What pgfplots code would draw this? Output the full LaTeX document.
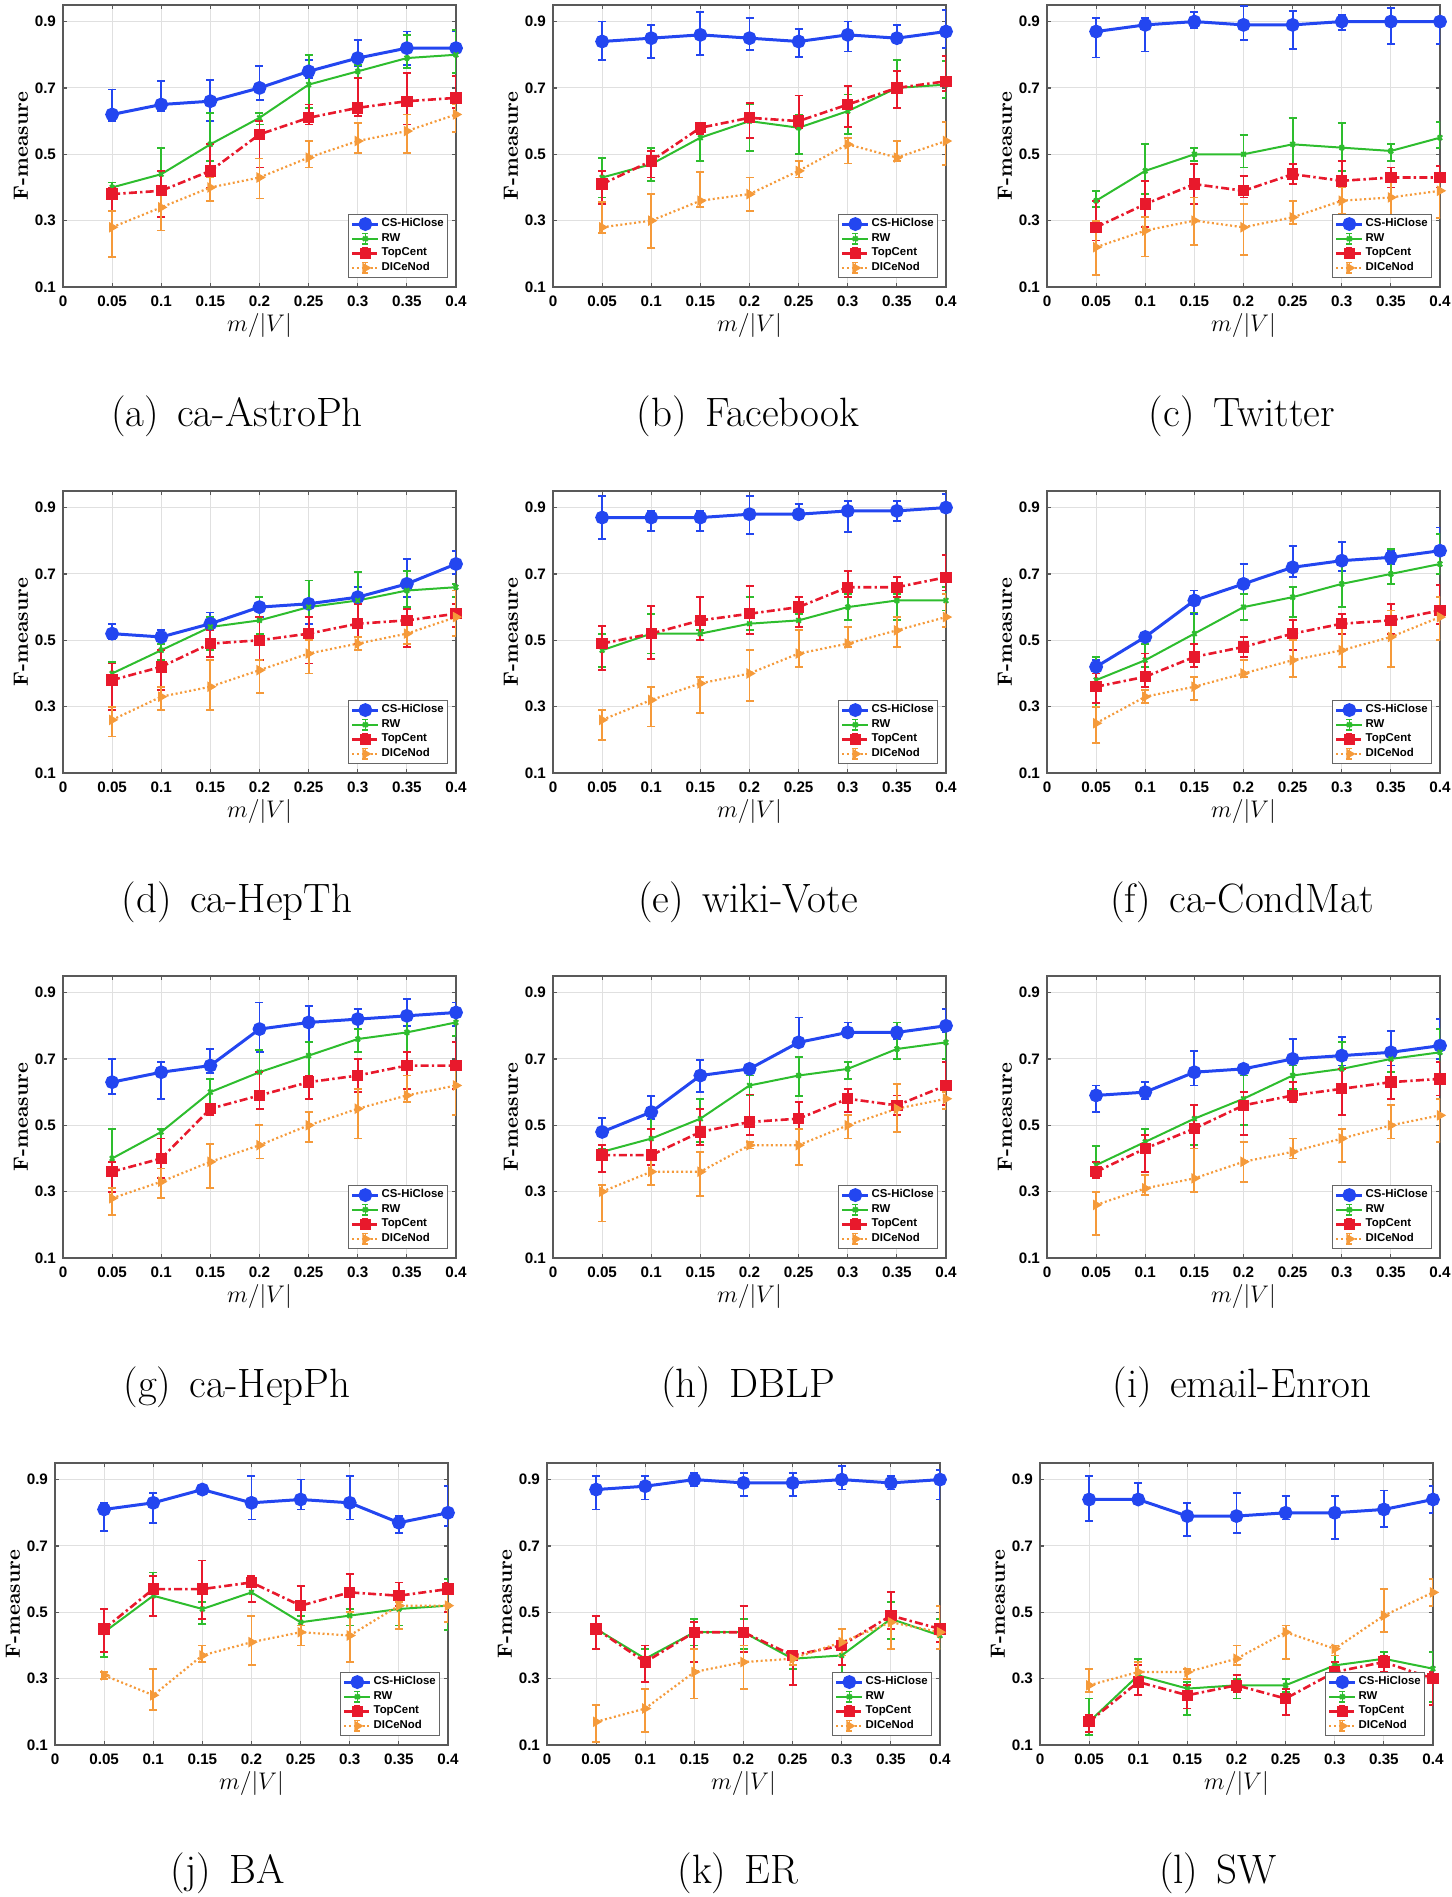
\documentclass[border=0pt]{standalone}
\usepackage{fontspec}
\usepackage{pgfplots}
\usepackage{pgfplotstable}
\pgfplotsset{compat=1.18}
\newfontfamily\hv{Liberation Sans}
\definecolor{csblue}{HTML}{2346F0}
\definecolor{rwgreen}{HTML}{2EBD2E}
\definecolor{tcred}{HTML}{E8192C}
\definecolor{dcorange}{HTML}{F59A3A}

% columns: x, then value / error plus / error minus for each method
\pgfplotstableread{
x cs csp csm rw rwp rwm tc tcp tcm dc dcp dcm
0.05 0.62 0.075 0.02 0.40 0.015 0.01 0.38 0.02 0.05 0.28 0.05 0.09
0.10 0.65 0.07 0.02 0.44 0.08 0.04 0.39 0.06 0.08 0.34 0.04 0.07
0.15 0.66 0.065 0.06 0.53 0.095 0.05 0.45 0.08 0.05 0.40 0.03 0.04
0.20 0.70 0.067 0.036 0.61 0.015 0.02 0.56 0.04 0.10 0.43 0.057 0.063
0.25 0.75 0.035 0.02 0.71 0.09 0.07 0.61 0.04 0.02 0.49 0.05 0.03
0.30 0.79 0.055 0.025 0.75 0.02 0.02 0.64 0.09 0.025 0.54 0.054 0.036
0.35 0.82 0.05 0.05 0.79 0.07 0.03 0.66 0.085 0.07 0.57 0.05 0.066
0.40 0.82 0.05 0.02 0.80 0.075 0.055 0.67 0.065 0.03 0.62 0.03 0.053
}\tA
\pgfplotstableread{
x cs csp csm rw rwp rwm tc tcp tcm dc dcp dcm
0.05 0.84 0.06 0.055 0.43 0.06 0.06 0.41 0.04 0.06 0.28 0.077 0.018
0.10 0.85 0.04 0.06 0.47 0.05 0.05 0.48 0.03 0.05 0.30 0.08 0.083
0.15 0.86 0.07 0.06 0.55 0.04 0.07 0.58 0.01 0.02 0.36 0.087 0.02
0.20 0.85 0.06 0.035 0.60 0.05 0.09 0.61 0.045 0.06 0.38 0.05 0.05
0.25 0.84 0.037 0.046 0.58 0.04 0.08 0.60 0.077 0.02 0.45 0.03 0.02
0.30 0.86 0.04 0.05 0.63 0.05 0.07 0.65 0.057 0.068 0.53 0.02 0.058
0.35 0.85 0.04 0.016 0.70 0.084 0.06 0.70 0.05 0.06 0.49 0.05 0.01
0.40 0.87 0.065 0.05 0.71 0.07 0.04 0.72 0.077 0.03 0.54 0.057 0.073
}\tB
\pgfplotstableread{
x cs csp csm rw rwp rwm tc tcp tcm dc dcp dcm
0.05 0.87 0.04 0.078 0.36 0.03 0.02 0.28 0.08 0.04 0.22 0.08 0.083
0.10 0.89 0.02 0.08 0.45 0.08 0.07 0.35 0.07 0.07 0.27 0.04 0.078
0.15 0.90 0.03 0.02 0.50 0.02 0.02 0.41 0.06 0.06 0.30 0.07 0.073
0.20 0.89 0.057 0.046 0.50 0.057 0.04 0.39 0.045 0.02 0.28 0.07 0.083
0.25 0.89 0.042 0.073 0.53 0.08 0.08 0.44 0.03 0.03 0.31 0.05 0.02
0.30 0.90 0.02 0.025 0.52 0.074 0.07 0.42 0.06 0.06 0.36 0.04 0.04
0.35 0.90 0.042 0.068 0.51 0.02 0.03 0.43 0.03 0.03 0.37 0.07 0.06
0.40 0.90 0.01 0.068 0.55 0.047 0.03 0.43 0.035 0.03 0.39 0.04 0.083
}\tC
\pgfplotstableread{
x cs csp csm rw rwp rwm tc tcp tcm dc dcp dcm
0.05 0.52 0.03 0.015 0.40 0.035 0.02 0.38 0.05 0.09 0.26 0.04 0.05
0.10 0.51 0.02 0.02 0.47 0.02 0.03 0.42 0.05 0.07 0.33 0.03 0.04
0.15 0.55 0.034 0.02 0.54 0.03 0.07 0.49 0.04 0.04 0.36 0.08 0.07
0.20 0.60 0.03 0.03 0.56 0.07 0.04 0.50 0.07 0.06 0.41 0.03 0.07
0.25 0.61 0.07 0.06 0.60 0.08 0.08 0.52 0.05 0.09 0.46 0.04 0.06
0.30 0.63 0.03 0.02 0.62 0.087 0.07 0.55 0.06 0.06 0.49 0.02 0.02
0.35 0.67 0.074 0.04 0.65 0.06 0.05 0.56 0.034 0.08 0.52 0.03 0.03
0.40 0.73 0.04 0.03 0.66 0.01 0.03 0.58 0.03 0.04 0.57 0.08 0.056
}\tD
\pgfplotstableread{
x cs csp csm rw rwp rwm tc tcp tcm dc dcp dcm
0.05 0.87 0.065 0.065 0.47 0.05 0.05 0.49 0.054 0.08 0.26 0.03 0.06
0.10 0.87 0.02 0.04 0.52 0.06 0.06 0.52 0.084 0.077 0.32 0.04 0.08
0.15 0.87 0.02 0.04 0.52 0.01 0.02 0.56 0.07 0.06 0.37 0.02 0.09
0.20 0.88 0.055 0.06 0.55 0.08 0.02 0.58 0.084 0.06 0.40 0.07 0.084
0.25 0.88 0.03 0.01 0.56 0.02 0.02 0.60 0.03 0.06 0.46 0.07 0.04
0.30 0.89 0.03 0.063 0.60 0.04 0.04 0.66 0.05 0.03 0.49 0.05 0.01
0.35 0.89 0.03 0.03 0.62 0.02 0.06 0.66 0.03 0.03 0.53 0.04 0.05
0.40 0.90 0.04 0.01 0.62 0.04 0.03 0.69 0.067 0.04 0.57 0.07 0.03
}\tE
\pgfplotstableread{
x cs csp csm rw rwp rwm tc tcp tcm dc dcp dcm
0.05 0.42 0.02 0.02 0.38 0.07 0.08 0.36 0.04 0.05 0.25 0.05 0.06
0.10 0.51 0.01 0.02 0.44 0.05 0.02 0.39 0.07 0.03 0.33 0.02 0.02
0.15 0.62 0.03 0.04 0.52 0.064 0.06 0.45 0.04 0.03 0.36 0.03 0.04
0.20 0.67 0.06 0.03 0.60 0.04 0.04 0.48 0.03 0.03 0.40 0.04 0.01
0.25 0.72 0.064 0.03 0.63 0.03 0.06 0.52 0.04 0.05 0.44 0.06 0.05
0.30 0.74 0.057 0.03 0.67 0.08 0.07 0.55 0.03 0.03 0.47 0.08 0.05
0.35 0.75 0.02 0.02 0.70 0.075 0.03 0.56 0.05 0.04 0.51 0.08 0.09
0.40 0.77 0.07 0.01 0.73 0.09 0.03 0.59 0.077 0.04 0.57 0.06 0.07
}\tF
\pgfplotstableread{
x cs csp csm rw rwp rwm tc tcp tcm dc dcp dcm
0.05 0.63 0.07 0.035 0.40 0.09 0.03 0.36 0.03 0.06 0.28 0.03 0.05
0.10 0.66 0.03 0.08 0.48 0.01 0.02 0.40 0.06 0.06 0.33 0.04 0.05
0.15 0.68 0.05 0.023 0.60 0.04 0.05 0.55 0.01 0.02 0.39 0.054 0.08
0.20 0.79 0.08 0.07 0.66 0.067 0.06 0.59 0.07 0.04 0.44 0.06 0.04
0.25 0.81 0.05 0.06 0.71 0.04 0.06 0.63 0.02 0.05 0.50 0.04 0.05
0.30 0.82 0.03 0.03 0.76 0.03 0.04 0.65 0.05 0.05 0.55 0.06 0.09
0.35 0.83 0.05 0.03 0.78 0.05 0.06 0.68 0.04 0.07 0.59 0.06 0.02
0.40 0.84 0.03 0.04 0.81 0.04 0.04 0.68 0.07 0.07 0.62 0.07 0.09
}\tG
\pgfplotstableread{
x cs csp csm rw rwp rwm tc tcp tcm dc dcp dcm
0.05 0.48 0.043 0.01 0.42 0.01 0.06 0.41 0.03 0.05 0.30 0.02 0.09
0.10 0.54 0.048 0.02 0.46 0.07 0.05 0.41 0.08 0.03 0.36 0.05 0.04
0.15 0.65 0.047 0.05 0.52 0.06 0.07 0.48 0.07 0.04 0.36 0.06 0.073
0.20 0.67 0.01 0.01 0.62 0.03 0.03 0.51 0.083 0.04 0.44 0.01 0.01
0.25 0.75 0.075 0.01 0.65 0.057 0.062 0.52 0.05 0.03 0.44 0.05 0.06
0.30 0.78 0.03 0.01 0.67 0.02 0.03 0.58 0.03 0.04 0.50 0.03 0.04
0.35 0.78 0.03 0.02 0.73 0.08 0.03 0.56 0.03 0.03 0.55 0.074 0.07
0.40 0.80 0.05 0.02 0.75 0.05 0.05 0.62 0.07 0.06 0.58 0.02 0.03
}\tH
\pgfplotstableread{
x cs csp csm rw rwp rwm tc tcp tcm dc dcp dcm
0.05 0.59 0.03 0.05 0.38 0.057 0.04 0.36 0.03 0.02 0.26 0.04 0.09
0.10 0.60 0.03 0.02 0.45 0.04 0.03 0.43 0.04 0.07 0.31 0.04 0.02
0.15 0.66 0.064 0.04 0.52 0.04 0.08 0.49 0.07 0.06 0.34 0.09 0.04
0.20 0.67 0.01 0.01 0.58 0.07 0.08 0.56 0.04 0.09 0.39 0.06 0.06
0.25 0.70 0.06 0.02 0.65 0.03 0.04 0.59 0.04 0.02 0.42 0.04 0.02
0.30 0.71 0.055 0.03 0.67 0.08 0.07 0.61 0.06 0.08 0.46 0.03 0.07
0.35 0.72 0.065 0.04 0.70 0.01 0.04 0.63 0.08 0.05 0.50 0.06 0.04
0.40 0.74 0.08 0.04 0.72 0.07 0.03 0.64 0.05 0.05 0.53 0.05 0.08
}\tI
\pgfplotstableread{
x cs csp csm rw rwp rwm tc tcp tcm dc dcp dcm
0.05 0.81 0.02 0.066 0.44 0.02 0.075 0.45 0.06 0.07 0.31 0.01 0.01
0.10 0.83 0.03 0.062 0.55 0.07 0.06 0.57 0.04 0.08 0.25 0.08 0.045
0.15 0.87 0.01 0.01 0.51 0.02 0.046 0.57 0.086 0.09 0.37 0.03 0.02
0.20 0.83 0.08 0.05 0.56 0.02 0.03 0.59 0.02 0.06 0.41 0.08 0.07
0.25 0.84 0.06 0.03 0.47 0.02 0.07 0.52 0.06 0.06 0.44 0.02 0.04
0.30 0.83 0.08 0.05 0.49 0.02 0.03 0.56 0.055 0.06 0.43 0.07 0.08
0.35 0.77 0.02 0.03 0.51 0.01 0.05 0.55 0.04 0.03 0.52 0.01 0.07
0.40 0.80 0.08 0.04 0.52 0.08 0.074 0.57 0.02 0.07 0.52 0.04 0.05
}\tJ
\pgfplotstableread{
x cs csp csm rw rwp rwm tc tcp tcm dc dcp dcm
0.05 0.87 0.04 0.06 0.45 0.04 0.06 0.45 0.04 0.06 0.17 0.05 0.06
0.10 0.88 0.03 0.04 0.36 0.03 0.07 0.35 0.05 0.06 0.21 0.06 0.07
0.15 0.90 0.02 0.02 0.44 0.04 0.04 0.44 0.03 0.09 0.32 0.07 0.08
0.20 0.89 0.03 0.04 0.44 0.04 0.05 0.44 0.08 0.06 0.35 0.05 0.08
0.25 0.89 0.03 0.04 0.36 0.02 0.03 0.37 0.01 0.09 0.36 0.02 0.02
0.30 0.90 0.04 0.03 0.37 0.03 0.06 0.40 0.05 0.06 0.41 0.04 0.04
0.35 0.89 0.02 0.02 0.48 0.05 0.06 0.49 0.07 0.04 0.47 0.03 0.08
0.40 0.90 0.03 0.06 0.43 0.05 0.04 0.45 0.07 0.04 0.44 0.08 0.05
}\tK
\pgfplotstableread{
x cs csp csm rw rwp rwm tc tcp tcm dc dcp dcm
0.05 0.84 0.07 0.064 0.17 0.07 0.04 0.17 0.02 0.03 0.28 0.05 0.02
0.10 0.84 0.05 0.01 0.31 0.05 0.06 0.29 0.05 0.04 0.32 0.03 0.02
0.15 0.79 0.04 0.06 0.27 0.02 0.08 0.25 0.03 0.04 0.32 0.01 0.02
0.20 0.79 0.07 0.05 0.28 0.02 0.04 0.28 0.03 0.02 0.36 0.04 0.02
0.25 0.80 0.05 0.02 0.28 0.02 0.02 0.24 0.03 0.05 0.44 0.02 0.08
0.30 0.80 0.05 0.08 0.34 0.03 0.02 0.32 0.03 0.02 0.39 0.01 0.02
0.35 0.81 0.057 0.054 0.36 0.02 0.02 0.35 0.02 0.03 0.49 0.08 0.05
0.40 0.84 0.04 0.04 0.33 0.05 0.10 0.30 0.02 0.08 0.56 0.04 0.04
}\tL

\pgfplotsset{
  fpanel/.style={
    width=196.5pt, height=141pt, scale only axis, anchor=south west,
    xmin=0, xmax=0.4, ymin=0.1, ymax=0.95,
    xtick={0,0.05,0.1,0.15,0.2,0.25,0.3,0.35,0.4},
    xticklabels={0,0.05,0.1,0.15,0.2,0.25,0.3,0.35,0.4},
    ytick={0.1,0.3,0.5,0.7,0.9}, yticklabels={0.1,0.3,0.5,0.7,0.9},
    grid=major, grid style={black!12, line width=0.5pt},
    axis line style={black!65, line width=0.8pt},
    tick style={black!65, line width=0.6pt}, tick align=inside, major tick length=2pt,
    ticklabel style={font=\hv\bfseries\fontsize{7.6}{8}\selectfont, text=black},
    xticklabel style={inner sep=0pt, yshift=-4pt},
    xlabel={$m/|V|$}, ylabel={F-measure},
    xlabel style={font=\fontsize{12}{14}\selectfont, inner sep=0pt, at={(axis description cs:0.5,-0.138)}, anchor=center},
    ylabel style={font=\bfseries\fontsize{10.3}{12}\selectfont, at={(axis description cs:-0.107,0.5)}, anchor=center},
    legend style={at={(axis description cs:0.98,0.032)}, anchor=south east,
      draw=black!60, line width=0.6pt, fill=white, inner sep=1pt,
      font=\hv\bfseries\fontsize{5.7}{6.5}\selectfont,
      nodes={inner sep=0.9pt}},
    legend cell align=left,
    legend image code/.code={
      \draw[mark repeat=2,mark phase=2] plot coordinates {(0pt,0pt) (6.5pt,0pt) (13pt,0pt)};
      \draw[solid,line width=0.7pt] (6.5pt,-2.6pt)--(6.5pt,2.6pt) (5pt,2.6pt)--(8pt,2.6pt) (5pt,-2.6pt)--(8pt,-2.6pt);
    },
  },
  cs/.style={csblue, line width=1.5pt, mark=*, mark size=2.7pt, mark options={solid}},
  rw/.style={rwgreen, line width=1pt, mark=x, mark size=1.6pt, mark options={solid}},
  tc/.style={tcred, line width=1.3pt, dash pattern=on 4pt off 1.6pt on 1.2pt off 1.6pt,
    mark=square*, mark size=2.2pt, mark options={solid}},
  dc/.style={dcorange, line width=1.1pt, dash pattern=on 1pt off 1.3pt,
    mark=triangle*, mark size=2pt, mark options={solid, rotate=-90}},
  ebar/.style={error bars/.cd, y dir=both, y explicit,
    error bar style={solid, line width=0.9pt},
    error mark options={solid, rotate=90, mark size=2pt, line width=0.9pt}},
}

\newcommand\fpanel[3]{%
  \begin{axis}[fpanel, at={(#2,#3)}]
    \addplot[cs,ebar] table[x=x,y=cs,y error plus=csp,y error minus=csm]{#1};
    \addplot[rw,ebar] table[x=x,y=rw,y error plus=rwp,y error minus=rwm]{#1};
    \addplot[tc,ebar] table[x=x,y=tc,y error plus=tcp,y error minus=tcm]{#1};
    \addplot[dc,ebar] table[x=x,y=dc,y error plus=dcp,y error minus=dcm]{#1};
    \legend{CS-HiClose,RW,TopCent,DICeNod}
  \end{axis}}

\begin{document}
\begin{tikzpicture}
\path[use as bounding box] (0,0) rectangle (726pt,948.5pt);
\fpanel{\tA}{31.5pt}{805pt}
\fpanel{\tB}{276.5pt}{805pt}
\fpanel{\tC}{523.5pt}{805pt}
\fpanel{\tD}{31.5pt}{562pt}
\fpanel{\tE}{276.5pt}{562pt}
\fpanel{\tF}{523.5pt}{562pt}
\fpanel{\tG}{31.5pt}{319.5pt}
\fpanel{\tH}{276.5pt}{319.5pt}
\fpanel{\tI}{523.5pt}{319.5pt}
\fpanel{\tJ}{27.5pt}{76pt}
\fpanel{\tK}{273.5pt}{76pt}
\fpanel{\tL}{520pt}{76pt}
\begin{scope}[every node/.style={anchor=base, font=\fontsize{20.5}{24}\selectfont}]
\node at (118.5pt,735pt) {(a)\hspace{0.45em}ca-AstroPh};
\node at (374pt,735pt) {(b)\hspace{0.45em}Facebook};
\node at (621pt,735pt) {(c)\hspace{0.45em}Twitter};
\node at (118.5pt,492pt) {(d)\hspace{0.45em}ca-HepTh};
\node at (374pt,492pt) {(e)\hspace{0.45em}wiki-Vote};
\node at (621pt,492pt) {(f)\hspace{0.45em}ca-CondMat};
\node at (118.5pt,249.5pt) {(g)\hspace{0.45em}ca-HepPh};
\node at (374pt,249.5pt) {(h)\hspace{0.45em}DBLP};
\node at (621pt,249.5pt) {(i)\hspace{0.45em}email-Enron};
\node at (114pt,6.5pt) {(j)\hspace{0.45em}BA};
\node at (369pt,6.5pt) {(k)\hspace{0.45em}ER};
\node at (609pt,6.5pt) {(l)\hspace{0.45em}SW};
\end{scope}
\end{tikzpicture}
\end{document}
